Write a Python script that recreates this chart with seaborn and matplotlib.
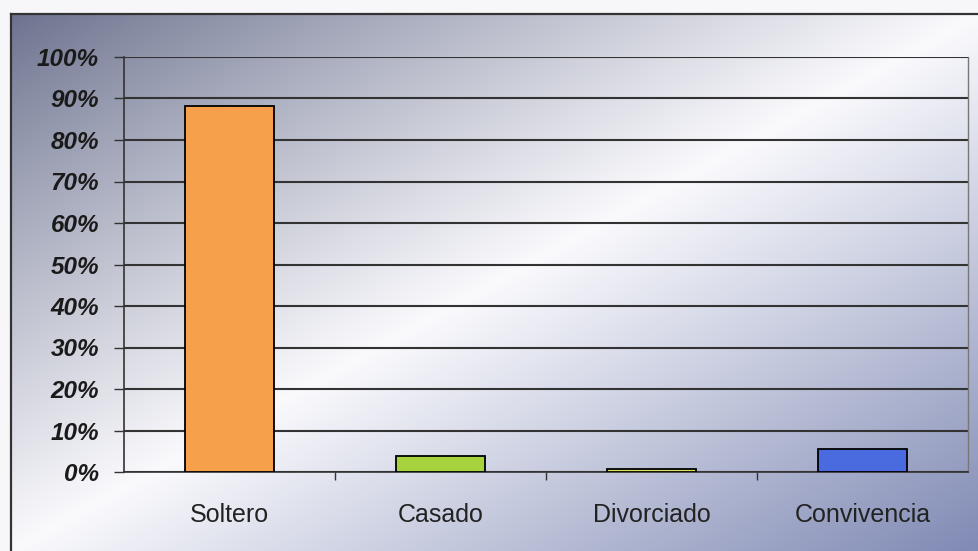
import numpy as np
import pandas as pd
import matplotlib
matplotlib.use("Agg")
import matplotlib.pyplot as plt
import seaborn as sns
from matplotlib.ticker import PercentFormatter, FixedLocator

categorias = ["Soltero", "Casado", "Divorciado", "Convivencia"]
porcentajes = [88.3, 3.8, 0.7, 5.5]
colores = ["#F6A04C", "#A6D23E", "#DCE05A", "#4A6BE0"]
yticks = [0, 10, 20, 30, 40, 50, 60, 70, 80, 90, 100]

df = pd.DataFrame({"estado": categorias, "pct": porcentajes})

sns.set_style("white")
plt.rcParams["font.family"] = ["Liberation Sans", "DejaVu Sans"]

W, H = 979, 551
fig = plt.figure(figsize=(W / 100, H / 100), dpi=100)
fig.patch.set_facecolor("#f7f7f9")

# fondo degradado (marco recortado arriba e izquierda)
bg = fig.add_axes([11 / W, 0, 1 - 11 / W, 1 - 14 / H])
gx, gy = np.meshgrid(np.linspace(0, 1, 300), np.linspace(0, 1, 200))
t = (gx + gy) / 2
c0 = np.array([108, 114, 142]) / 255
c1 = np.array([250, 250, 253]) / 255
c2 = np.array([128, 138, 180]) / 255
a = np.clip(t / 0.5, 0, 1)[..., None]
b = np.clip((t - 0.5) / 0.5, 0, 1)[..., None]
img = np.where(t[..., None] < 0.5, c0 + (c1 - c0) * a ** 0.9, c1 + (c2 - c1) * b ** 1.0)
bg.imshow(img, aspect="auto", extent=[0, 1, 1, 0], interpolation="bicubic")
bg.set_xticks([])
bg.set_yticks([])
for s in ["right", "bottom"]:
    bg.spines[s].set_visible(False)
for s in ["top", "left"]:
    bg.spines[s].set_color("#333333")
    bg.spines[s].set_linewidth(1.6)

ax = fig.add_axes([124 / W, 1 - 472 / H, (968 - 124) / W, (472 - 57) / H])
ax.set_facecolor("none")
sns.barplot(data=df, x="estado", y="pct", hue="estado", palette=colores, saturation=1,
            width=0.42, edgecolor="black", linewidth=1.3, legend=False, ax=ax, zorder=3)

ax.set_ylim(0, 100)
ax.set_xlim(-0.5, 3.5)
ax.set_yticks(yticks)
ax.yaxis.set_major_formatter(PercentFormatter(decimals=0))
ax.grid(axis="y", color="#333333", linewidth=1.5, zorder=1)
ax.set_axisbelow(True)
ax.set_xlabel("")
ax.set_ylabel("")

for lab in ax.get_yticklabels():
    lab.set_fontweight("bold")
    lab.set_fontstyle("italic")
ax.tick_params(axis="y", length=7, width=1, color="#333333", pad=11,
               labelsize=17.5, labelcolor="#1a1a1a", left=True)
ax.tick_params(axis="x", which="major", length=0, pad=22, labelsize=18,
               labelcolor="#222222")
ax.xaxis.set_minor_locator(FixedLocator([0.5, 1.5, 2.5]))
ax.tick_params(axis="x", which="minor", length=6, width=1, color="#333333",
               direction="out", bottom=True)

ax.spines["left"].set_color("#333333")
ax.spines["left"].set_linewidth(1.2)
ax.spines["bottom"].set_color("#333333")
ax.spines["bottom"].set_linewidth(1.2)
ax.spines["top"].set_visible(False)
ax.spines["right"].set_color("#777777")
ax.spines["right"].set_linewidth(1.0)

fig.savefig("out.png", dpi=100)
